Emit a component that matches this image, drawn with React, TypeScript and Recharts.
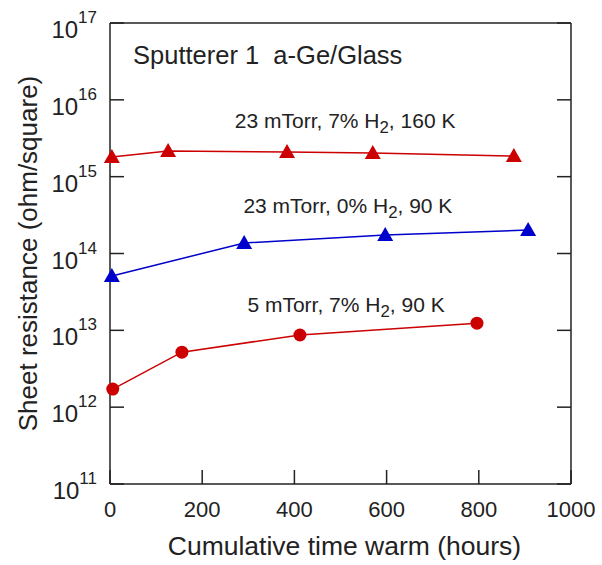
import { ComposedChart, Line, XAxis, YAxis, ReferenceDot } from "recharts"

// hours of cumulative warm time, sheet resistance in ohm/square
const xTicks = [0, 200, 400, 600, 800, 1000]
const yTicks = [1e11, 1e12, 1e13, 1e14, 1e15, 1e16, 1e17]

const hours160K = [4, 126, 384, 570, 876]
const res160K = [1.8e15, 2.16e15, 2.1e15, 2.03e15, 1.86e15]

const hours0H2 = [4, 291, 597, 907]
const res0H2 = [5.1e13, 1.37e14, 1.74e14, 2.02e14]

const hours5mT = [6, 156, 412, 796]
const res5mT = [1.72e12, 5.2e12, 8.7e12, 1.24e13]

// annotation anchors in data units: [hours, resistance]
const noteTitle = [50, 2.93e16]
const note160K = [510, 4.3e15]
const note0H2 = [516, 3.37e14]
const note5mT = [512, 1.73e13]

const RED = "#cc0000"
const BLUE = "#0000cc"
const INK = "#222"
const TICK_LEN = 14

// chart layout
const W = 602
const H = 565
const MARGIN = { top: 22, right: 30, left: 10, bottom: 10 }
const Y_W = 100
const X_H = 71
const PLOT_L = MARGIN.left + Y_W
const PLOT_R = W - MARGIN.right - 1
const PLOT_T = MARGIN.top + 1
const PLOT_B = H - MARGIN.bottom - X_H

const zip = (xs: number[], ys: number[]) => xs.map((x, i) => ({ x, y: ys[i] }))

function BottomTick(props: any) {
  const x = Number(props.x)
  return (
    <g>
      <line x1={x} x2={x} y1={PLOT_B} y2={PLOT_B - TICK_LEN} stroke={INK} strokeWidth={1.5} />
      <text x={x} y={PLOT_B + 33} textAnchor="middle" fontSize={22} fill={INK}>
        {props.payload.value}
      </text>
    </g>
  )
}

function TopTick(props: any) {
  const x = Number(props.x)
  return <line x1={x} x2={x} y1={PLOT_T} y2={PLOT_T + TICK_LEN} stroke={INK} strokeWidth={1.5} />
}

function LeftTick(props: any) {
  const y = Number(props.y)
  const exp = Math.round(Math.log10(props.payload.value))
  return (
    <g>
      <line x1={PLOT_L} x2={PLOT_L + TICK_LEN} y1={y} y2={y} stroke={INK} strokeWidth={1.5} />
      <text x={PLOT_L - 13} y={y + 15} textAnchor="end" fontSize={24} fill={INK}>
        <tspan>10</tspan>
        <tspan dy={-15} fontSize={17}>{exp}</tspan>
      </text>
    </g>
  )
}

function RightTick(props: any) {
  const y = Number(props.y)
  return <line x1={PLOT_R} x2={PLOT_R - TICK_LEN} y1={y} y2={y} stroke={INK} strokeWidth={1.5} />
}

function Triangle({ cx, cy, fill }: any) {
  return <polygon points={`${cx},${cy - 8} ${cx + 8},${cy + 6} ${cx - 8},${cy + 6}`} fill={fill} />
}

function noteLabel(parts: [string, string, string], anchor: "middle" | "start", size: number) {
  return (props: any) => {
    const vb = props.viewBox
    const cx = vb.x + vb.width / 2
    const cy = vb.y + vb.height / 2
    return (
      <text x={cx} y={cy} textAnchor={anchor} fontSize={size} fill={INK} style={{ whiteSpace: "pre" }}>
        <tspan>{parts[0]}</tspan>
        {parts[1] && <tspan dy={5} fontSize={size * 0.8}>{parts[1]}</tspan>}
        {parts[1] && <tspan dy={-5}>{parts[2]}</tspan>}
      </text>
    )
  }
}

export default function App() {
  return (
    <div style={{ position: "absolute", left: 0, top: 0, fontFamily: "'Liberation Sans', Arial, sans-serif" }}>
      <ComposedChart width={W} height={H} margin={MARGIN}>
        <XAxis
          type="number"
          dataKey="x"
          domain={[0, 1000]}
          ticks={xTicks}
          height={X_H}
          tickSize={0}
          axisLine={{ stroke: INK, strokeWidth: 1.5 }}
          tick={<BottomTick />}
          label={{ value: "Cumulative time warm (hours)", position: "insideBottom", offset: 0, dx: 4, fontSize: 26.5, fill: INK }}
        />
        <XAxis
          xAxisId="top"
          orientation="top"
          type="number"
          dataKey="x"
          domain={[0, 1000]}
          ticks={xTicks}
          height={1}
          tickSize={0}
          axisLine={{ stroke: INK, strokeWidth: 1.5 }}
          tick={<TopTick />}
        />
        <YAxis
          type="number"
          dataKey="y"
          scale="log"
          domain={[1e11, 1e17]}
          ticks={yTicks}
          allowDataOverflow
          width={Y_W}
          tickSize={0}
          axisLine={{ stroke: INK, strokeWidth: 1.5 }}
          tick={<LeftTick />}
          label={{ value: "Sheet resistance (ohm/square)", angle: -90, position: "insideLeft", offset: 18, fontSize: 26, fill: INK, style: { textAnchor: "middle" } }}
        />
        <YAxis
          yAxisId="right"
          orientation="right"
          type="number"
          scale="log"
          domain={[1e11, 1e17]}
          ticks={yTicks}
          allowDataOverflow
          width={1}
          tickSize={0}
          axisLine={{ stroke: INK, strokeWidth: 1.5 }}
          tick={<RightTick />}
        />
        <Line
          data={zip(hours160K, res160K)}
          dataKey="y"
          stroke={RED}
          strokeWidth={1.5}
          isAnimationActive={false}
          dot={(p: any) => <Triangle key={p.index} cx={p.cx} cy={p.cy} fill={RED} />}
        />
        <Line
          data={zip(hours0H2, res0H2)}
          dataKey="y"
          stroke={BLUE}
          strokeWidth={1.5}
          isAnimationActive={false}
          dot={(p: any) => <Triangle key={p.index} cx={p.cx} cy={p.cy} fill={BLUE} />}
        />
        <Line
          data={zip(hours5mT, res5mT)}
          dataKey="y"
          stroke={RED}
          strokeWidth={1.5}
          isAnimationActive={false}
          dot={{ r: 6.5, fill: RED, stroke: RED, strokeWidth: 0 }}
        />
        <ReferenceDot x={noteTitle[0]} y={noteTitle[1]} r={1} fill="none" stroke="none"
          label={noteLabel(["Sputterer 1  a-Ge/Glass", "", ""], "start", 25.5)} />
        <ReferenceDot x={note160K[0]} y={note160K[1]} r={1} fill="none" stroke="none"
          label={noteLabel(["23 mTorr, 7% H", "2", ", 160 K"], "middle", 21)} />
        <ReferenceDot x={note0H2[0]} y={note0H2[1]} r={1} fill="none" stroke="none"
          label={noteLabel(["23 mTorr, 0% H", "2", ", 90 K"], "middle", 21)} />
        <ReferenceDot x={note5mT[0]} y={note5mT[1]} r={1} fill="none" stroke="none"
          label={noteLabel(["5 mTorr, 7% H", "2", ", 90 K"], "middle", 21)} />
      </ComposedChart>
    </div>
  )
}
